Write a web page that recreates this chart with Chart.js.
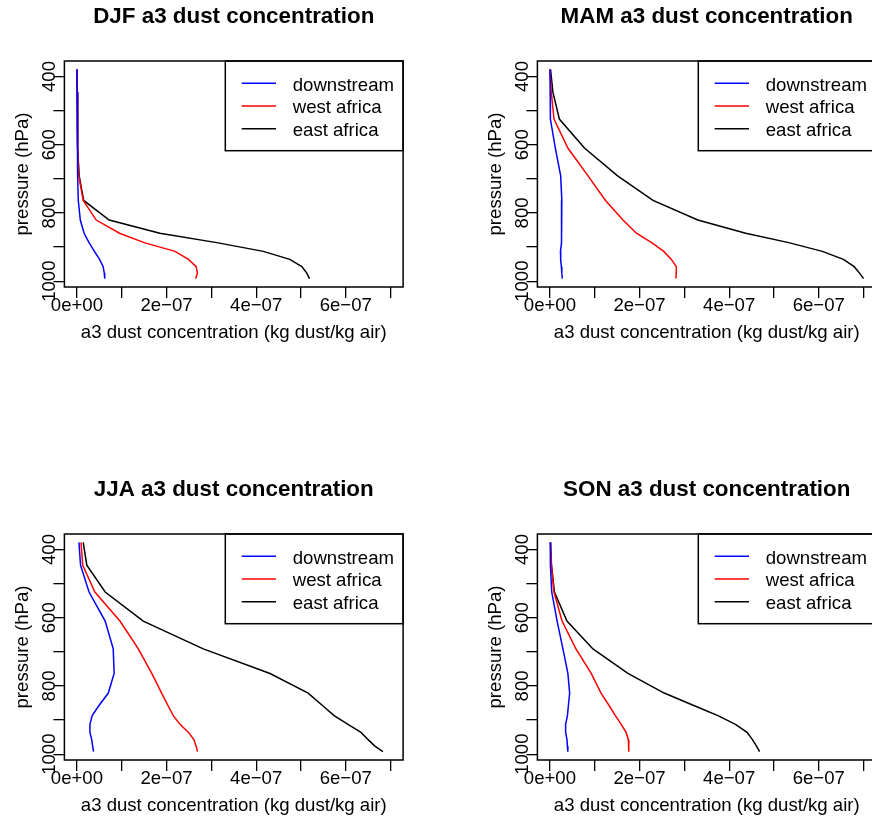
<!DOCTYPE html>
<html>
<head>
    <title>a3 dust concentration profiles</title>
    <meta charset="utf-8" />
    <script src="https://cdn.jsdelivr.net/npm/chart.js@4.4.0/dist/chart.umd.min.js"></script>
    <style>
        html, body {
            margin: 0;
            padding: 0;
            width: 872px;
            height: 821px;
            overflow: hidden;
            background: #ffffff;
        }
        canvas { position: absolute; }
        #djf { left: 0; top: 0; }
        #mam { left: 473px; top: 0; }
        #jja { left: 0; top: 473px; }
        #son { left: 473px; top: 473px; }
    </style>
</head>
<body>
    <canvas id="djf" width="473" height="473"></canvas>
    <canvas id="mam" width="473" height="473"></canvas>
    <canvas id="jja" width="473" height="473"></canvas>
    <canvas id="son" width="473" height="473"></canvas>

    <script>
        // model level pressures (hPa)
        const levels = [379.10, 445.99, 524.69, 609.78, 691.39, 763.40, 820.86,
                        859.53, 887.02, 912.64, 936.20, 957.49, 976.33, 992.56];

        // concentrations below are in units of 1e-7 kg dust/kg air
        const UNIT = 1e-7;

        const seriesNames = ['downstream', 'west africa', 'east africa'];
        const seriesColors = ['#0000ff', '#ff0000', '#000000'];

        const djfDownstream = [0.0, 0.005, 0.01, 0.015, 0.02, 0.03, 0.075, 0.16, 0.27, 0.39, 0.505, 0.585, 0.61, 0.62];
        const djfWest       = [0.0, 0.005, 0.01, 0.02, 0.04, 0.14, 0.43, 0.95, 1.50, 2.19, 2.49, 2.66, 2.69, 2.65];
        const djfEast       = [0.0, 0.005, 0.01, 0.02, 0.05, 0.15, 0.72, 1.85, 3.12, 4.16, 4.75, 5.02, 5.13, 5.19];

        const mamDownstream = [0.0, 0.005, 0.01, 0.12, 0.24, 0.265, 0.265, 0.26, 0.25, 0.235, 0.24, 0.255, 0.265, 0.275];
        const mamWest       = [0.0, 0.03, 0.09, 0.40, 0.85, 1.24, 1.63, 1.93, 2.27, 2.54, 2.71, 2.82, 2.82, 2.81];
        const mamEast       = [0.013, 0.066, 0.21, 0.77, 1.51, 2.30, 3.30, 4.37, 5.33, 6.08, 6.55, 6.79, 6.91, 7.00];

        const jjaDownstream = [0.045, 0.08, 0.27, 0.63, 0.81, 0.83, 0.70, 0.48, 0.34, 0.29, 0.29, 0.33, 0.35, 0.37];
        const jjaWest       = [0.09, 0.13, 0.40, 0.96, 1.37, 1.67, 1.89, 2.04, 2.15, 2.30, 2.49, 2.61, 2.66, 2.69];
        const jjaEast       = [0.14, 0.22, 0.63, 1.48, 2.82, 4.31, 5.16, 5.50, 5.74, 6.05, 6.34, 6.50, 6.65, 6.83];

        const sonDownstream = [0.007, 0.01, 0.04, 0.16, 0.29, 0.40, 0.44, 0.41, 0.39, 0.35, 0.35, 0.38, 0.39, 0.40];
        const sonWest       = [0.013, 0.03, 0.09, 0.27, 0.58, 0.92, 1.14, 1.33, 1.46, 1.59, 1.70, 1.75, 1.76, 1.76];
        const sonEast       = [0.013, 0.035, 0.10, 0.38, 0.96, 1.74, 2.55, 3.25, 3.75, 4.14, 4.40, 4.52, 4.61, 4.68];

        // axis ticks (R drops the labels that would overlap)
        const xTicks = [0, 1e-7, 2e-7, 3e-7, 4e-7, 5e-7, 6e-7, 7e-7];
        const xTickLabels = ['0e+00', '', '2e\u221207', '', '4e\u221207', '', '6e\u221207', ''];
        const yTicks = [400, 500, 600, 700, 800, 900, 1000];
        const yTickLabels = ['400', '', '600', '', '800', '', '1000'];

        const xLim = [0, 7e-7];
        const yLim = [levels[0], levels[levels.length - 1]];

        // R style 4% range extension
        function extend(lim) {
            const d = (lim[1] - lim[0]) * 0.04;
            return [lim[0] - d, lim[1] + d];
        }
        const xRange = extend(xLim);
        const yRange = extend(yLim);

        const FONT = '"Liberation Sans", Arial, Helvetica, sans-serif';
        Chart.defaults.font.family = FONT;
        Chart.defaults.color = '#000';

        // plot box + topright legend, like box() and legend() in R
        const boxAndLegend = {
            id: 'boxAndLegend',
            afterDraw(chart) {
                const { ctx, chartArea: a } = chart;
                ctx.save();
                ctx.strokeStyle = '#000';
                ctx.lineWidth = 1.5;
                ctx.strokeRect(a.left, a.top, a.right - a.left, a.bottom - a.top);

                const w = 177.8, h = 89.7;
                const lx = a.right - w, ly = a.top;
                ctx.strokeRect(lx, ly, w, h);
                ctx.font = '18.6px ' + FONT;
                ctx.textBaseline = 'alphabetic';
                ctx.textAlign = 'left';
                chart.data.datasets.forEach((ds, i) => {
                    const y = ly + 22.3 + i * 22.7;
                    ctx.strokeStyle = ds.borderColor;
                    ctx.lineWidth = 1.5;
                    ctx.beginPath();
                    ctx.moveTo(lx + 16.4, y);
                    ctx.lineTo(lx + 50.7, y);
                    ctx.stroke();
                    ctx.fillStyle = '#000';
                    ctx.fillText(ds.label, lx + 67.4, y + 7.2);
                });
                ctx.restore();
            }
        };

        function makeChart(id, title, series) {
            const ctx = document.getElementById(id).getContext('2d');
            return new Chart(ctx, {
                type: 'scatter',
                data: {
                    datasets: series.map((vals, i) => ({
                        label: seriesNames[i],
                        data: levels.map((p, k) => ({ x: vals[k] * UNIT, y: p })),
                        showLine: true,
                        borderColor: seriesColors[i],
                        borderWidth: 1.5,
                        pointRadius: 0,
                        tension: 0,
                        fill: false
                    }))
                },
                options: {
                    responsive: false,
                    animation: false,
                    devicePixelRatio: 1,
                    layout: { padding: { left: 0, right: 69.9, top: 0, bottom: 121 } },
                    plugins: {
                        legend: { display: false },
                        tooltip: { enabled: false },
                        title: {
                            display: true,
                            text: title,
                            fullSize: false,
                            color: '#000',
                            font: { size: 22.4, weight: 'bold', lineHeight: 1.2 },
                            padding: { top: 3, bottom: 31.12 }
                        }
                    },
                    scales: {
                        x: {
                            type: 'linear',
                            position: 'bottom',
                            min: xRange[0],
                            max: xRange[1],
                            afterBuildTicks: (scale) => { scale.ticks = xTicks.map(v => ({ value: v })); },
                            afterFit: (scale) => { scale.height = 65; },
                            grid: { drawOnChartArea: false, drawTicks: true, tickLength: 11, color: '#000', lineWidth: 1.3 },
                            border: { display: false },
                            ticks: {
                                autoSkip: false,
                                minRotation: 0,
                                maxRotation: 0,
                                padding: -3.7,
                                font: { size: 18.6, lineHeight: 1.2 },
                                callback: (v, i) => xTickLabels[i]
                            },
                            title: {
                                display: true,
                                text: 'a3 dust concentration (kg dust/kg air)',
                                font: { size: 18.6, lineHeight: 1.2 },
                                padding: { top: 0, bottom: 7.84 }
                            }
                        },
                        y: {
                            type: 'linear',
                            position: 'left',
                            reverse: true,
                            min: yRange[0],
                            max: yRange[1],
                            afterBuildTicks: (scale) => { scale.ticks = yTicks.map(v => ({ value: v })); },
                            afterFit: (scale) => { scale.width = 64.4; },
                            grid: { drawOnChartArea: false, drawTicks: true, tickLength: 11, color: '#000', lineWidth: 1.3 },
                            border: { display: false },
                            ticks: {
                                autoSkip: false,
                                minRotation: 90,
                                maxRotation: 90,
                                crossAlign: 'center',
                                padding: -17.5,
                                font: { size: 18.6, lineHeight: 1.2 },
                                callback: (v, i) => yTickLabels[i]
                            },
                            title: {
                                display: true,
                                text: 'pressure (hPa)',
                                font: { size: 18.6, lineHeight: 1.2 },
                                padding: { top: 11.3, bottom: 0 }
                            }
                        }
                    }
                },
                plugins: [boxAndLegend]
            });
        }

        makeChart('djf', 'DJF a3 dust concentration', [djfDownstream, djfWest, djfEast]);
        makeChart('mam', 'MAM a3 dust concentration', [mamDownstream, mamWest, mamEast]);
        makeChart('jja', 'JJA a3 dust concentration', [jjaDownstream, jjaWest, jjaEast]);
        makeChart('son', 'SON a3 dust concentration', [sonDownstream, sonWest, sonEast]);
    </script>
</body>
</html>
